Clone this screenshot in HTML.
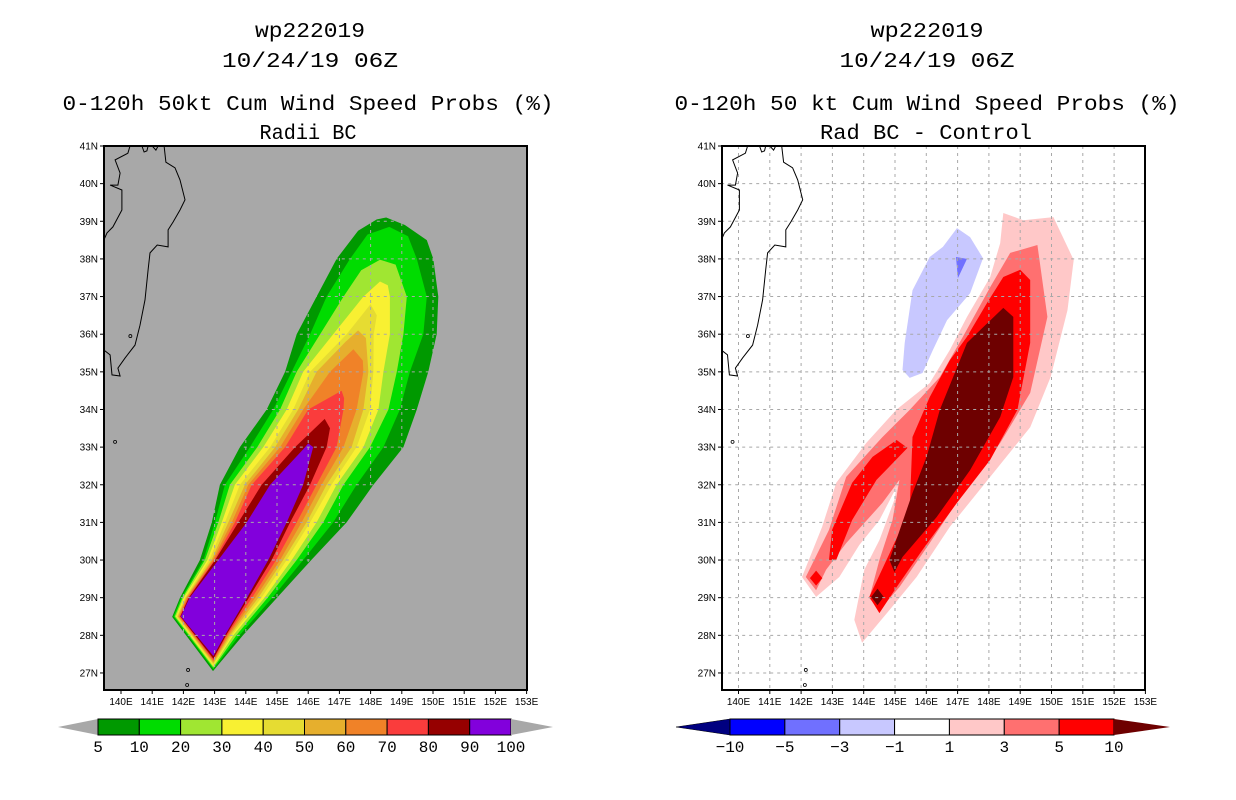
<!DOCTYPE html>
<html><head><meta charset="utf-8"><style>
html,body{margin:0;padding:0;background:#fff;}
svg{display:block;font-family:"Liberation Sans",sans-serif;}
</style></head><body>
<svg id="c" width="1236" height="800" viewBox="0 0 1236 800" xmlns="http://www.w3.org/2000/svg">
<defs>
<clipPath id="clipL"><rect x="104" y="146" width="423" height="544"/></clipPath>
<clipPath id="clipR"><rect x="722" y="146" width="423" height="544"/></clipPath>
</defs>
<g font-family="Liberation Mono, monospace" font-size="21" text-anchor="middle" fill="#000">
<text x="310" y="37" textLength="110" lengthAdjust="spacingAndGlyphs">wp222019</text>
<text x="310" y="67" textLength="176" lengthAdjust="spacingAndGlyphs">10/24/19 06Z</text>
<text x="308" y="110" textLength="491" lengthAdjust="spacingAndGlyphs">0-120h 50kt Cum Wind Speed Probs (%)</text>
<text x="308" y="139" textLength="97" lengthAdjust="spacingAndGlyphs">Radii BC</text>
</g>
<g font-family="Liberation Mono, monospace" font-size="21" text-anchor="middle" fill="#000">
<text x="927" y="37" textLength="113" lengthAdjust="spacingAndGlyphs">wp222019</text>
<text x="927" y="67" textLength="175" lengthAdjust="spacingAndGlyphs">10/24/19 06Z</text>
<text x="927" y="110" textLength="505" lengthAdjust="spacingAndGlyphs">0-120h 50 kt Cum Wind Speed Probs (%)</text>
<text x="926" y="139" textLength="212" lengthAdjust="spacingAndGlyphs">Rad BC - Control</text>
</g>
<rect x="104" y="146" width="423" height="544" fill="#a8a8a8"/>
<rect x="722" y="146" width="423" height="544" fill="#fff"/>
<g id="fillL" clip-path="url(#clipL)"></g>
<g id="fillR" clip-path="url(#clipR)"></g>
<g id="gridL" clip-path="url(#clipL)"></g>
<g id="gridR" clip-path="url(#clipR)"></g>
<g id="coastL" clip-path="url(#clipL)"></g>
<g id="coastR" clip-path="url(#clipR)"></g>
<rect x="104" y="146" width="423" height="544" fill="none" stroke="#000" stroke-width="2"/>
<rect x="722" y="146" width="423" height="544" fill="none" stroke="#000" stroke-width="2"/>
<g id="axes" font-size="10" fill="#000"></g>
<g id="cbL"></g>
<g id="cbR"></g>
</svg>
<script>
// ---- data ----
const lonTicks = [140,141,142,143,144,145,146,147,148,149,150,151,152,153];
const latTicks = [27,28,29,30,31,32,33,34,35,36,37,38,39,40,41];
const leftLevels = ["5","10","20","30","40","50","60","70","80","90","100"];
const leftColors = ["#009900","#00dc00","#a0e632","#f8f032","#e6dc32","#e6af2d","#f08228","#fa3c3c","#960000","#8200dc"];
const rightLevels = ["-10","-5","-3","-1","1","3","5","10"];
const rightColors = ["#000080","#0000ff","#7070ff","#c8c8ff","#ffffff","#ffc8c8","#ff7070","#ff0000","#6e0000"];

const prob5 = [[141.64,28.49],[141.89,29],[142.53,30],[142.91,31],[143.17,32],[143.81,33],[144.67,34],[145.26,35],[145.63,36],[146.27,37],[146.91,38],[147.6,38.75],[148.2,39.05],[148.5,39.1],[149.1,38.9],[149.8,38.5],[150.01,38],[150.17,37],[150.12,36],[149.85,35],[149.48,34],[149.05,33],[148.09,32],[147.23,31],[146.1,30],[145.0,29],[143.91,28],[142.95,27.05]];
const prob10 = [[141.68,28.5],[141.93,29],[142.64,30],[143.01,31],[143.33,32],[144.13,33],[144.88,34],[145.47,35],[146.06,36],[146.59,37],[147.34,38],[147.9,38.65],[148.6,38.85],[149.2,38.6],[149.48,38],[149.8,37],[149.69,36],[149.26,35],[148.94,34],[148.41,33],[147.55,32],[146.8,31],[145.84,30],[144.85,29],[143.8,28],[142.96,27.1]];
const prob20 = [[141.72,28.5],[141.97,29],[142.69,30],[143.12,31],[143.49,32],[144.37,33],[145.1,34],[145.63,35],[146.38,36],[147.13,37],[147.7,37.7],[148.3,37.98],[148.8,37.85],[149.16,37],[149.05,36],[148.84,35],[148.57,34],[147.98,33],[147.13,32],[146.48,31],[145.63,30],[144.7,29],[143.7,28],[142.96,27.14]];
const prob30 = [[141.76,28.5],[142.01,29],[142.77,30],[143.23,31],[143.65,32],[144.56,33],[145.31,34],[145.84,35],[146.8,36],[147.77,37],[148.3,37.4],[148.55,37.3],[148.62,37],[148.62,36],[148.41,35],[148.25,34],[147.77,33],[146.91,32],[146.27,31],[145.47,30],[144.6,29],[143.6,28],[142.96,27.18]];
const prob40 = [[141.79,28.5],[142.05,29],[142.83,30],[143.33,31],[143.81,32],[144.78,33],[145.52,34],[146.06,35],[147.23,36],[148.0,36.8],[148.2,36.5],[148.1,36],[148.09,35],[147.98,34],[147.55,33],[146.75,32],[146.06,31],[145.31,30],[144.5,29],[143.55,28],[142.96,27.22]];
const prob50 = [[141.82,28.5],[142.08,29],[142.9,30],[143.44,31],[143.97,32],[144.94,33],[145.68,34],[146.27,35],[147.2,35.8],[147.6,36.1],[147.85,35.9],[147.93,35],[147.77,34],[147.39,33],[146.59,32],[145.95,31],[145.2,30],[144.4,29],[143.5,28],[142.96,27.26]];
const prob60 = [[141.85,28.5],[142.11,29],[142.94,30],[143.55,31],[144.08,32],[145.1,33],[145.84,34],[146.7,35],[147.45,35.6],[147.75,35.3],[147.77,35],[147.55,34],[147.13,33],[146.43,32],[145.79,31],[145.1,30],[144.3,29],[143.45,28],[142.96,27.3]];
const prob70 = [[141.88,28.5],[142.14,29],[142.99,30],[143.65,31],[144.19,32],[145.26,33],[146.0,34],[147.07,34.5],[147.15,34.3],[147.13,34],[146.91,33],[146.27,32],[145.63,31],[144.97,30],[144.2,29],[143.4,28],[142.96,27.34]];
const prob80 = [[141.9,28.5],[142.17,29],[143.02,30],[143.76,31],[144.51,32],[145.58,33],[146.53,33.75],[146.7,33.5],[146.59,33],[146.06,32],[145.42,31],[144.83,30],[144.1,29],[143.37,28],[142.96,27.38]];
const prob90 = [[141.92,28.5],[142.2,29],[143.12,30],[144.03,31],[144.78,32],[145.85,32.95],[146.0,33.1],[146.16,33.0],[145.84,32],[145.31,31],[144.72,30],[144.04,29],[143.33,28],[142.96,27.45]];

const diffM1 = [[146.98,38.82],[147.4,38.58],[147.81,38.02],[147.4,37.09],[146.66,36.37],[146.21,35.58],[145.88,34.97],[145.47,34.84],[145.24,35.05],[145.31,35.77],[145.56,37.17],[146.11,38.05],[146.53,38.32]];
const diffM3 = [[146.95,38.05],[147.3,38.0],[147.01,37.49]];
const diffP1 = [[148.46,39.22],[149.1,39.03],[150.06,39.11],[150.71,37.97],[150.51,36.64],[149.97,34.86],[149.32,33.53],[148.04,32.21],[146.75,30.88],[145.69,29.55],[144.82,28.67],[143.95,27.8],[143.7,28.41],[144.02,29.74],[144.5,30.53],[144.98,31.6],[145.05,31.94],[144.5,31.06],[143.86,30.4],[143.22,29.55],[142.48,29.02],[142.03,29.55],[142.67,30.88],[143.12,32.05],[144.08,33.11],[145.05,34.0],[146.11,34.7],[146.75,35.58],[147.3,36.46],[148.04,37.52],[148.36,38.42]];
const diffP3 = [[149.55,38.37],[149.87,36.46],[149.32,34.44],[148.36,33.11],[147.17,31.78],[146.11,30.45],[145.14,29.28],[144.5,28.67],[144.18,28.99],[144.5,30.0],[144.92,31.06],[145.14,32.13],[144.6,31.52],[143.44,30.45],[142.8,29.74],[142.48,29.2],[142.15,29.55],[142.89,30.8],[143.44,32.21],[144.6,33.27],[145.47,33.99],[146.43,34.86],[147.17,35.93],[148.04,37.25],[148.68,38.16]];
const diffP5 = [[149.0,37.71],[149.32,37.44],[149.32,35.77],[148.91,33.99],[148.04,32.66],[146.98,31.52],[145.88,30.27],[145.05,29.28],[144.5,28.59],[144.18,29.02],[144.73,30.0],[145.47,31.33],[145.56,33.27],[146.11,34.33],[146.75,35.31],[147.3,35.93],[147.94,36.83],[148.46,37.52]];
const diffP5arm = [[145.05,33.19],[145.4,32.98],[144.41,32.13],[143.63,31.06],[143.12,30.0],[142.89,30.0],[142.99,30.8],[143.63,32.05],[144.28,32.74]];
const diffP5dot = [[142.48,29.72],[142.68,29.52],[142.48,29.32],[142.28,29.52]];
const diffP10 = [[148.46,36.7],[148.78,36.46],[148.78,34.86],[148.36,33.8],[147.4,32.39],[146.33,31.14],[145.24,30.08],[144.98,29.68],[144.82,30.0],[145.56,31.78],[146.01,32.74],[146.43,33.99],[147.3,35.77],[147.62,36.03]];
const diffP10dot = [[144.44,29.24],[144.64,29.02],[144.44,28.8],[144.24,29.02]];

const coastEast = [[141.38,41.0],[141.44,40.57],[141.73,40.42],[141.89,40.1],[142.05,39.57],[141.89,39.3],[141.67,38.98],[141.51,38.77],[141.51,38.32],[141.16,38.37],[140.93,38.16],[140.87,37.71],[140.77,36.91],[140.61,36.24],[140.45,35.71],[140.13,35.37],[139.9,35.1],[139.97,34.89],[139.71,34.92],[139.65,35.45],[139.45,35.58],[139.3,35.6]];
const coastWest = [[140.29,41.0],[140.22,40.81],[139.81,40.63],[139.97,40.28],[139.9,39.96],[139.65,39.96],[140.03,39.83],[140.03,39.3],[139.74,38.85],[139.55,38.69],[139.45,38.5],[139.3,38.3]];
const coastTsugaru1 = [[140.67,41.0],[140.74,40.84],[140.83,40.87],[140.87,41.0]];
const coastTsugaru2 = [[141.0,41.0],[141.12,40.89],[141.19,41.0]];
const islands = [[140.3,35.95],[139.42,34.2],[139.81,33.14],[142.15,27.08],[142.12,26.68]];

// ---- axis functions ----
function xL(lon){return 121+(lon-140)*31.2;}
function xR(lon){return 738.5+(lon-140)*31.3;}
function yM(lat){return 146+(41-lat)*37.64;}
const NS="http://www.w3.org/2000/svg";
function mk(tag,attrs,parent){const e=document.createElementNS(NS,tag);for(const k in attrs)e.setAttribute(k,attrs[k]);parent.appendChild(e);return e;}
function pts(arr,fx){return arr.map(p=>fx(p[0]).toFixed(1)+","+yM(p[1]).toFixed(1)).join(" ");}

const fillL=document.getElementById('fillL');
const probPolys=[prob5,prob10,prob20,prob30,prob40,prob50,prob60,prob70,prob80,prob90];
probPolys.forEach((poly,i)=>{
  const e=mk('polygon',{points:pts(poly,xL),fill:leftColors[i],'stroke-linejoin':'round'},fillL);
  
  
});
const fillR=document.getElementById('fillR');
const diffPolys=[[diffM1,3,'diff-minus1'],[diffM3,2,'diff-minus3'],[diffP1,5,'diff-plus1'],[diffP3,6,'diff-plus3'],[diffP5,7,'diff-plus5'],[diffP5arm,7,'diff-plus5-arm'],[diffP5dot,7,'diff-plus5-spot'],[diffP10,8,'diff-plus10'],[diffP10dot,8,'diff-plus10-spot']];
diffPolys.forEach(d=>{
  const e=mk('polygon',{points:pts(d[0],xR),fill:rightColors[d[1]]},fillR);
  
  
});

// grids
[['gridL',xL],['gridR',xR]].forEach(g=>{
  const G=document.getElementById(g[0]);const fx=g[1];
  lonTicks.forEach(lon=>{const e=mk('line',{x1:fx(lon),x2:fx(lon),y1:146,y2:690,stroke:'#a8a8a8','stroke-width':1,'stroke-dasharray':'3,4'},G);
    });
  latTicks.forEach(lat=>{const e=mk('line',{x1:fx(139),x2:fx(154),y1:yM(lat),y2:yM(lat),stroke:'#a8a8a8','stroke-width':1,'stroke-dasharray':'3,4'},G);
    });
});
// coast
[['coastL',xL],['coastR',xR]].forEach(c=>{
  const G=document.getElementById(c[0]);const fx=c[1];
  [coastEast,coastWest,coastTsugaru1,coastTsugaru2].forEach(line=>{
    const e=mk('polyline',{points:pts(line,fx),fill:'none',stroke:'#000','stroke-width':1},G);
    });
  islands.forEach(p=>{const e=mk('circle',{cx:fx(p[0]),cy:yM(p[1]),r:1.5,fill:'none',stroke:'#000','stroke-width':0.8},G);
    });
});
// axes
const AX=document.getElementById('axes');
[[xL,104],[xR,722]].forEach((a,k)=>{
  const fx=a[0],x0=a[1];
  latTicks.forEach(lat=>{
    mk('line',{x1:x0-4,x2:x0,y1:yM(lat),y2:yM(lat),stroke:'#000'},AX);
    const t=mk('text',{x:x0-6,y:yM(lat)+3.5,'text-anchor':'end'},AX);t.textContent=lat+'N';
    
  });
  lonTicks.forEach(lon=>{
    mk('line',{x1:fx(lon),x2:fx(lon),y1:690,y2:694,stroke:'#000'},AX);
    const t=mk('text',{x:fx(lon),y:705,'text-anchor':'middle'},AX);t.textContent=lon+'E';
    
  });
});
// colorbars
function colorbar(id,x0,x1,tipL,tipR,colors,labels,triL,triR){
  const G=document.getElementById(id);const y0=719,y1=735,ym=727;
  const n=colors.length-(triL?1:0)-(triR?1:0);const w=(x1-x0)/n;
  let ci=0;
  if(triL){const e=mk('polygon',{points:`${tipL},${ym} ${x0},${y0} ${x0},${y1}`,fill:colors[0],stroke:'#000','stroke-width':0.5},G);ci=1;}
  else{const e=mk('polygon',{points:`${tipL},${ym} ${x0},${y0} ${x0},${y1}`,fill:'#a8a8a8'},G);}
  for(let i=0;i<n;i++){const e=mk('rect',{x:x0+i*w,y:y0,width:w,height:y1-y0,fill:colors[ci+i],stroke:'#000','stroke-width':1},G);
    }
  const hc=triR?colors[colors.length-1]:'#a8a8a8';
  const e2=mk('polygon',{points:`${x1},${y0} ${tipR},${ym} ${x1},${y1}`,fill:hc},G);
  labels.forEach((l,i)=>{const t=mk('text',{x:x0+i*w,y:752,'text-anchor':'middle','font-size':16,'font-family':'Liberation Mono, monospace'},G);t.textContent=l.replace('-','\u2212');
    });
}
colorbar('cbL',98,511,58,553,leftColors,leftLevels,false,false);
colorbar('cbR',730,1114,676,1170,rightColors,rightLevels,true,true);
</script>
</body></html>
